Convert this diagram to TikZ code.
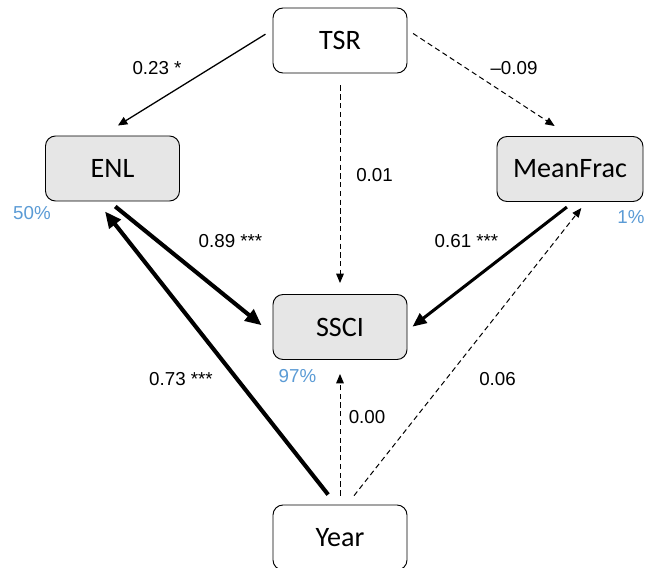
\documentclass[tikz,border=0pt]{standalone}
\usepackage{fontspec}
\setmainfont{Liberation Sans}
\newfontfamily\calibri{Carlito}
\usetikzlibrary{arrows.meta}
\definecolor{bleu}{RGB}{91,155,213}
\definecolor{gris}{RGB}{230,230,230}

\begin{document}
\begin{tikzpicture}

% définition des styles
\tikzstyle{boite}=[rectangle,draw,line width=0.8pt,rounded corners=0.3cm,minimum width=4.02cm,minimum height=1.95cm,inner sep=0pt,font=\calibri\fontsize{24}{28}\selectfont]
\tikzstyle{grise}=[boite,fill=gris]
\tikzstyle{coef}=[inner sep=0pt,font=\fontsize{16}{19}\selectfont]
\tikzstyle{pourcent}=[coef,text=bleu]
\tikzstyle{fleche}=[-{Triangle[length=8pt,width=7pt]},line width=1.1pt]
\tikzstyle{pointille}=[-{Triangle[length=8pt,width=6.5pt]},line width=0.85pt,dash pattern=on 4.5pt off 3pt]
\tikzstyle{moyenne}=[-{Triangle[length=12pt,width=10pt]},line width=2.6pt]
\tikzstyle{grosse}=[-{Triangle[length=14pt,width=12pt]},line width=3.5pt]

\useasboundingbox (0,0) rectangle (19.35,-17.01);

% les boites
\node [boite] (TSR) at (10.2,-1.215) {TSR};
\node [grise] (ENL) at (3.375,-5.055) {ENL};
\node [grise,minimum width=4.38cm] (MeanFrac) at (17.1,-5.07) {MeanFrac};
\node [grise] (SSCI) at (10.2,-9.81) {SSCI};
\node [boite] (Year) at (10.2,-16.125) {Year};

% les fleches
\draw[fleche,shorten <=0.25cm,shorten >=0.57cm] (TSR.171) -- (ENL.108);
\draw[pointille,shorten <=0.2cm,shorten >=0.55cm] (TSR.9) -- (MeanFrac.north);
\draw[pointille,shorten <=0.36cm,shorten >=0.33cm] (TSR.south) -- (SSCI.north);
\draw[grosse,shorten <=0.24cm,shorten >=0.42cm] (ENL.264) -- (SSCI.186);
\draw[moyenne,shorten <=0.25cm,shorten >=0.19cm] (MeanFrac.276) -- (SSCI.357);
\draw[grosse,shorten <=0.38cm,shorten >=0.38cm] (Year.97) -- (ENL.245);
\draw[pointille,shorten <=0.27cm,shorten >=0.42cm] (Year.north) -- (SSCI.south);
\draw[pointille,shorten <=0.34cm,shorten >=0.23cm] (Year.78) -- (MeanFrac.296);

% les coefficients
\node [coef] (c1) at (4.71,-2.04) {0.23 *};
\node [coef] (c2) at (15.42,-2.04) {\textendash0.09};
\node [coef] (c3) at (11.235,-5.25) {0.01};
\node [coef] (c4) at (6.915,-7.23) {0.89 ***};
\node [coef] (c5) at (13.995,-7.23) {0.61 ***};
\node [coef] (c6) at (5.43,-11.37) {0.73 ***};
\node [coef] (c7) at (11.01,-12.51) {0.00};
\node [coef] (c8) at (14.925,-11.385) {0.06};

% les pourcentages
\node [pourcent] (p1) at (0.96,-6.39) {50\%};
\node [pourcent] (p2) at (18.93,-6.525) {1\%};
\node [pourcent] (p3) at (8.925,-11.28) {97\%};

\end{tikzpicture}
\end{document}
